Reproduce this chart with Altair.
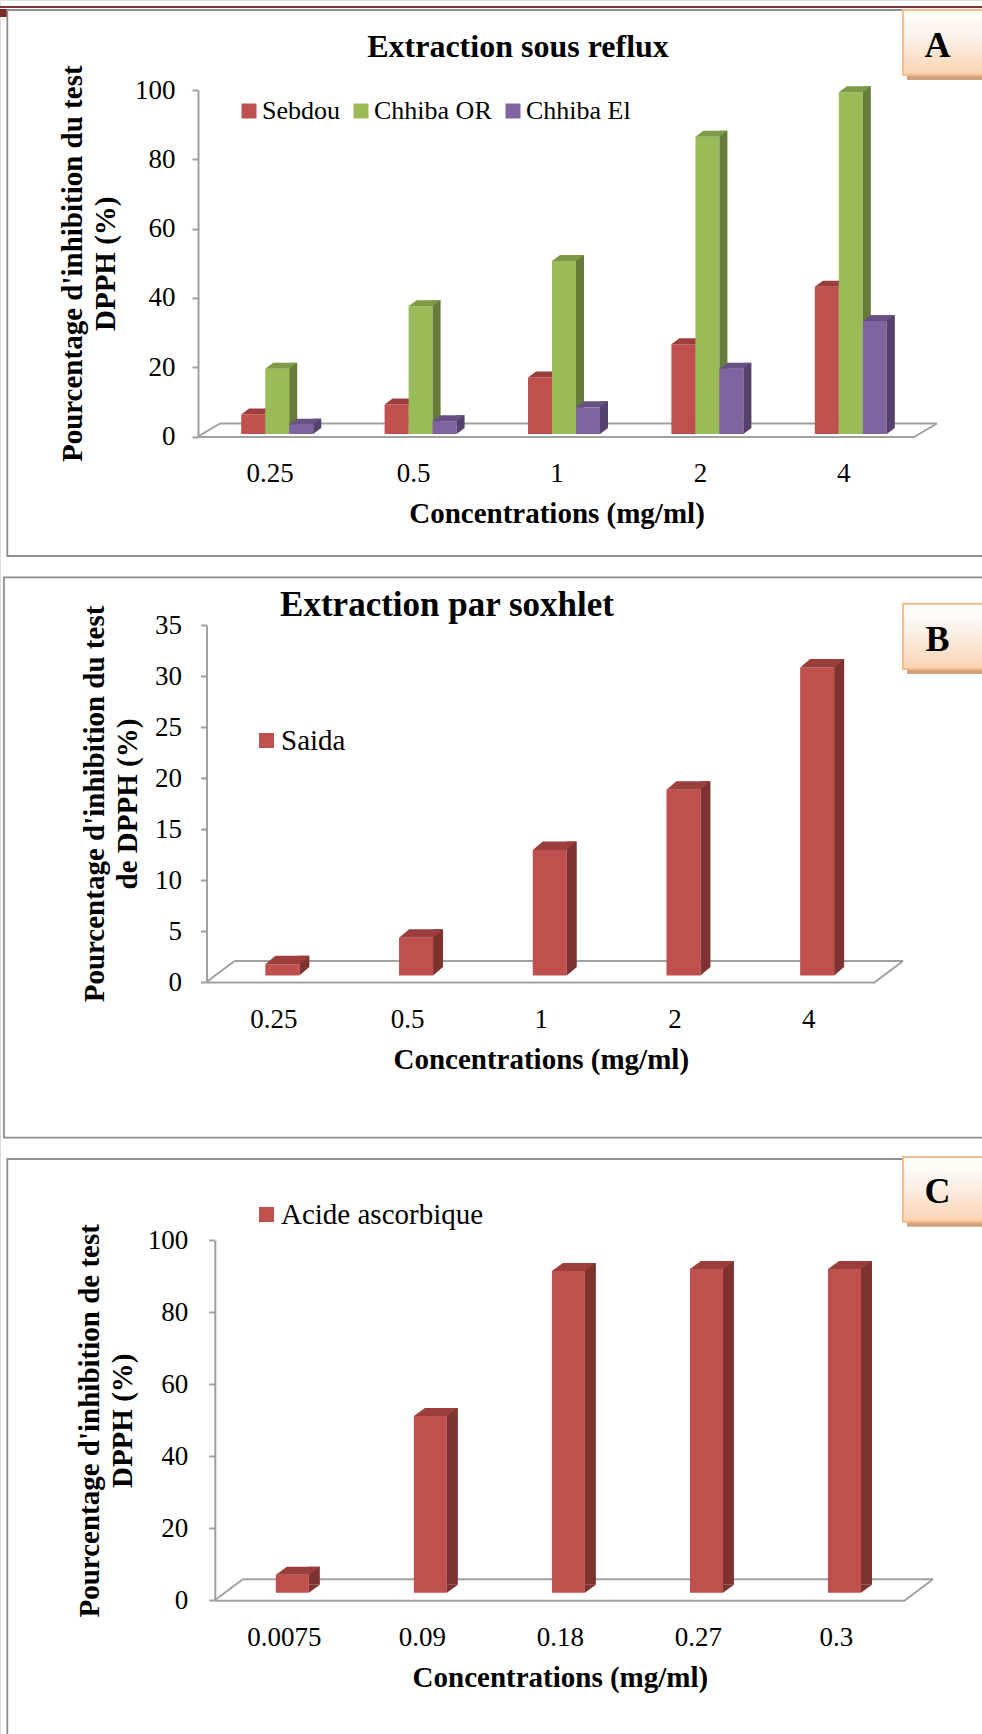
import altair as alt
import pandas as pd

# ---------------- data ----------------
# A: extraction sous reflux
reflux_conc = ["0.25", "0.5", "1", "2", "4"]
reflux_series = ["Sebdou", "Chhiba OR", "Chhiba El"]
sebdou = [5.6, 8.5, 16.3, 25.9, 42.5]
chhiba_or = [18.8, 36.9, 49.9, 85.8, 98.6]
chhiba_el = [2.7, 3.7, 7.7, 18.8, 32.6]

# B: extraction par soxhlet
soxhlet_conc = ["0.25", "0.5", "1", "2", "4"]
soxhlet_series = ["Saida"]
saida = [1.1, 3.7, 12.3, 18.2, 30.2]

# C: reference antioxidant
ascorbic_conc = ["0.0075", "0.09", "0.18", "0.27", "0.3"]
ascorbic_series = ["Acide ascorbique"]
acide_ascorbique = [5.0, 49.1, 89.4, 90.0, 90.0]

panel_titles = ["Extraction sous reflux", "Extraction par soxhlet"]
panel_letters = ["A", "B", "C"]
x_title = "Concentrations (mg/ml)"
y_titles = [
    ["Pourcentage d'inhibition du test", "DPPH (%)"],
    ["Pourcentage d'inhibition du test", "de DPPH (%)"],
    ["Pourcentage d'inhibition de test", "DPPH (%)"],
]

# ---------------- styling ----------------
W, H = 982, 1734
FONT = "Liberation Serif"
GRAY = "#A0A0A0"
FRAME = "#8E8E8E"
FRONT = {"red": "#C0504D", "green": "#9BBB59", "purple": "#8064A2"}
TOP = {"red": "#9C3F3C", "green": "#7E9A47", "purple": "#675084"}
SIDE = {"red": "#7E3331", "green": "#667C3A", "purple": "#54426C"}
S = 10.0  # unit of the custom symbol paths (size = (2*S)^2)


def panel(conc, series, values, hues, geo, ymax, ystep, ytitle, legend_xy,
          legend_fs, label_pad, ytitle_x):
    n_cat, n_ser = len(conc), len(series)
    cat_px = (geo["x1"] - geo["x0"]) / n_cat
    bw = geo["bar"] / cat_px
    sx, sy = geo["shift"]
    ddx, ddy = geo["depth"]
    fdx, fdy = geo["floor"]

    xs = alt.Scale(domain=[0, n_cat], range=[geo["x0"], geo["x1"]], nice=False, zero=False)
    ys = alt.Scale(domain=[0, ymax], range=[geo["y0"], geo["ytop"]], nice=False, zero=False)
    label_list = "[" + ",".join("'%s'" % c for c in conc) + "]"
    xaxis = alt.Axis(
        orient="bottom", offset=geo["y0"] - H, values=[i + 0.5 for i in range(n_cat)],
        labelExpr=label_list + "[floor(datum.value)]", ticks=False, grid=False,
        domainColor=GRAY, domainWidth=2, labelFont=FONT, labelFontSize=27,
        labelColor="black", labelPadding=45, labelBaseline="alphabetic",
        labelFlush=False, labelOverlap=False, title=x_title, titleFont=FONT,
        titleFontSize=29, titleFontWeight="bold", titleColor="black",
        titleX=(geo["x0"] + geo["x1"]) / 2, titleY=86, titleAlign="center",
        titleBaseline="alphabetic", titleAngle=0)
    yaxis = alt.Axis(
        orient="left", offset=-geo["x0"], values=list(range(0, ymax + 1, ystep)),
        format="d", grid=False, domainColor=GRAY, domainWidth=2, tickColor=GRAY,
        tickWidth=2, tickSize=6, labelFont=FONT, labelFontSize=27, labelColor="black",
        labelPadding=label_pad, title=ytitle, titleFont=FONT, titleFontSize=29,
        titleFontWeight="bold", titleColor="black", titleAngle=270,
        titleX=ytitle_x - geo["x0"], titleY=(geo["y0"] + geo["ytop"]) / 2,
        titleAlign="center", titleBaseline="alphabetic", titleLineHeight=33)

    def X(f):
        return alt.X(f, type="quantitative", scale=xs, axis=xaxis)

    def Y(f):
        return alt.Y(f, type="quantitative", scale=ys, axis=yaxis)

    # floor of the 3-D plot area
    floor = pd.DataFrame({"a": [0], "b": [n_cat], "zero": [0]})
    rule = dict(color=GRAY, strokeWidth=2)
    layers = [
        alt.Chart(floor).mark_rule(xOffset=fdx, x2Offset=fdx, yOffset=fdy, y2Offset=fdy, **rule)
        .encode(x=X("a"), x2="b", y=Y("zero"), y2="zero"),
        alt.Chart(floor).mark_rule(x2Offset=fdx, y2Offset=fdy, **rule)
        .encode(x=X("a"), x2="a", y=Y("zero"), y2="zero"),
        alt.Chart(floor).mark_rule(x2Offset=fdx, y2Offset=fdy, **rule)
        .encode(x=X("b"), x2="b", y=Y("zero"), y2="zero"),
    ]

    legend = alt.Legend(
        orient="none", legendX=legend_xy[0], legendY=legend_xy[1], direction="horizontal",
        title=None, symbolType="square", symbolSize=225, symbolStrokeWidth=0,
        labelFont=FONT, labelFontSize=legend_fs, labelColor="black", labelOffset=0,
        columnPadding=8, labelLimit=500, padding=0)
    color = alt.Color("series:N", scale=alt.Scale(domain=series, range=[FRONT[h] for h in hues]),
                      legend=legend)

    w = geo["bar"]
    top_path = "M%.3f,0L%.3f,0L%.3f,%.3fL%.3f,%.3fZ" % (
        -w / 2 / S, w / 2 / S, (w / 2 + ddx) / S, ddy / S, (-w / 2 + ddx) / S, ddy / S)
    foot_path = "M0,0L0,%.3fL%.3f,%.3fZ" % (ddy / S, ddx / S, ddy / S)

    for j, (name, vals, hue) in enumerate(zip(series, values, hues)):
        rows = []
        for i, (c, v) in enumerate(zip(conc, vals)):
            mid = i + 0.5 + (j - (n_ser - 1) / 2) * bw
            rows.append({"conc": c, "series": name, "value": v, "zero": 0,
                         "left": mid - bw / 2, "mid": mid, "right": mid + bw / 2})
        df = pd.DataFrame(rows)
        base = alt.Chart(df)
        # front face
        layers.append(base.mark_rect(xOffset=sx, x2Offset=sx, yOffset=sy, y2Offset=sy)
                      .encode(x=X("left"), x2="right", y=Y("value"), y2="zero", color=color))
        # side face
        layers.append(base.mark_rect(color=SIDE[hue], xOffset=sx, x2Offset=sx + ddx,
                                     yOffset=sy + ddy, y2Offset=sy + ddy)
                      .encode(x=X("right"), x2="right", y=Y("value"), y2="zero"))
        layers.append(base.mark_point(shape=foot_path, size=(2 * S) ** 2, filled=True,
                                      color=SIDE[hue], opacity=1, strokeWidth=0,
                                      xOffset=sx, yOffset=sy)
                      .encode(x=X("right"), y=Y("zero")))
        # top face
        layers.append(base.mark_point(shape=top_path, size=(2 * S) ** 2, filled=True,
                                      color=TOP[hue], opacity=1, strokeWidth=0,
                                      xOffset=sx, yOffset=sy)
                      .encode(x=X("mid"), y=Y("value")))
    return alt.layer(*layers)


pA = panel(reflux_conc, reflux_series, [sebdou, chhiba_or, chhiba_el],
           ["red", "green", "purple"],
           dict(x0=198, x1=915, y0=436.5, ytop=90, bar=24, shift=(7.5, -2.5),
                depth=(8, -6), floor=(22, -13)),
           100, 20, y_titles[0], (236, 98), 26, 17, 81.5)
pB = panel(soxhlet_conc, soxhlet_series, [saida], ["red"],
           dict(x0=206.5, x1=875, y0=982, ytop=625, bar=34, shift=(9, -6.5),
                depth=(10, -8.5), floor=(28, -21)),
           35, 5, y_titles[1], (252, 726), 29, 19, 103.3)
pC = panel(ascorbic_conc, ascorbic_series, [acide_ascorbique], ["red"],
           dict(x0=214.8, x1=905, y0=1600.2, ytop=1240.4, bar=33, shift=(8.5, -7.5),
                depth=(11, -8), floor=(28, -21)),
           100, 20, y_titles[2], (252, 1200), 29, 21, 98.3)

# ---------------- page decoration ----------------
one = pd.DataFrame({"k": [0]})
deco_back = [
    alt.Chart(one).mark_rule(color="#7A3535", strokeWidth=2).encode(y=alt.value(7)),
    alt.Chart(one).mark_rect(color="#7B2A2A").encode(
        x=alt.value(0), x2=alt.value(7), y=alt.value(9), y2=alt.value(17)),
]
frames = [(7.3, 10, 556), (4, 577.3, 1137.7), (7.3, 1159, 1760)]
for fx, fy, fy2 in frames:
    deco_back.append(alt.Chart(one).mark_rect(fillOpacity=0, stroke=FRAME, strokeWidth=1.8)
                     .encode(x=alt.value(fx), x2=alt.value(990), y=alt.value(fy), y2=alt.value(fy2)))

peach = alt.LinearGradient(
    gradient="linear", x1=0, y1=0, x2=0, y2=1,
    stops=[alt.GradientStop(color="#FFFFFF", offset=0),
           alt.GradientStop(color="#FBF0E6", offset=0.45),
           alt.GradientStop(color="#FAD2B0", offset=1)])
boxes = [(10, 75, 56.5), (603.7, 669, 650.6), (1157, 1221.7, 1203)]
deco_front = []
for (by, by2, base_y), letter in zip(boxes, panel_letters):
    deco_front.append(alt.Chart(one).mark_rect(color="#CFA27F").encode(
        x=alt.value(907), x2=alt.value(990), y=alt.value(by + 5), y2=alt.value(by2 + 5)))
    deco_front.append(alt.Chart(one).mark_rect(color=peach, stroke="#F8BC8A", strokeWidth=2)
                      .encode(x=alt.value(903), x2=alt.value(990), y=alt.value(by), y2=alt.value(by2)))
    deco_front.append(alt.Chart(one).mark_text(
        text=letter, font=FONT, fontSize=36, fontWeight="bold", color="black",
        align="center", baseline="alphabetic").encode(x=alt.value(937.5), y=alt.value(base_y)))

for t, (tx, ty, fs) in zip(panel_titles, [(518, 57, 32), (447, 615.5, 35)]):
    deco_front.append(alt.Chart(one).mark_text(
        text=t, font=FONT, fontSize=fs, fontWeight="bold", color="black",
        align="center", baseline="alphabetic").encode(x=alt.value(tx), y=alt.value(ty)))

chart = (
    alt.layer(*deco_back, pA, pB, pC, *deco_front)
    .resolve_scale(x="independent", y="independent", color="independent")
    .properties(width=W, height=H, autosize=alt.AutoSizeParams(type="none"), padding=0)
    .configure_view(stroke=None)
    .configure(font=FONT)
)

chart.save("out.html", embed_options={"renderer": "svg", "actions": False})
